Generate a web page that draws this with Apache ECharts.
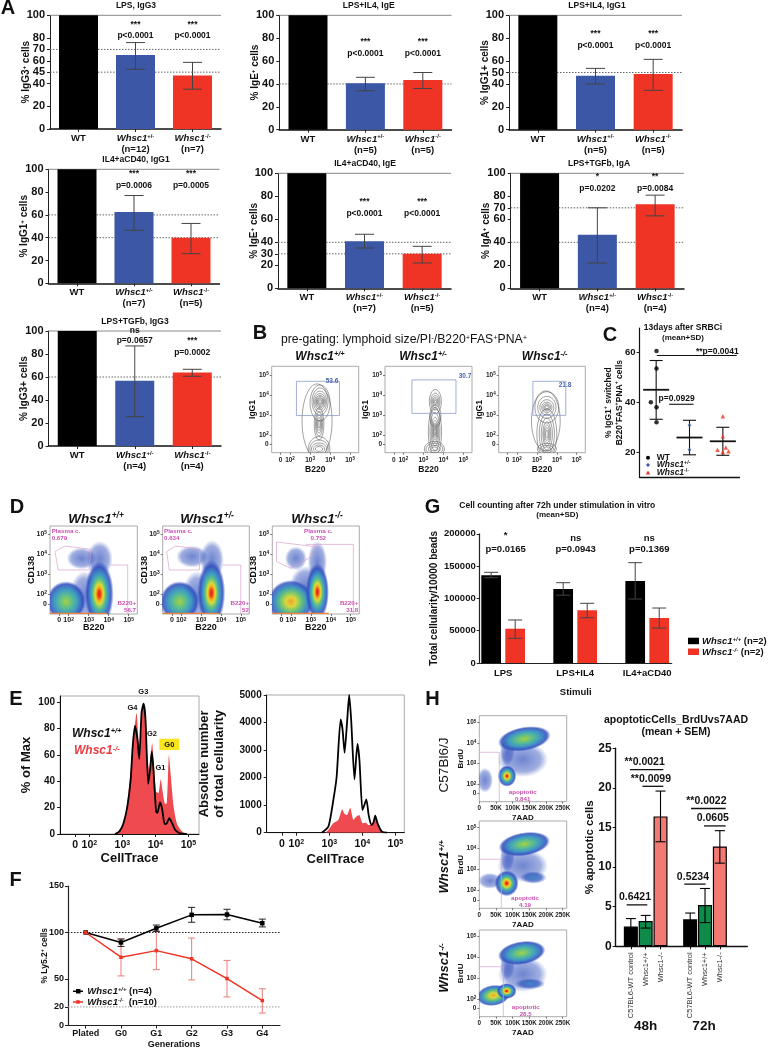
<!DOCTYPE html>
<html><head><meta charset="utf-8">
<script src="https://cdn.jsdelivr.net/npm/echarts@6/dist/echarts.min.js"></script>
<style>html,body{margin:0;padding:0;background:#fff}#c{width:768px;height:1050px}</style></head>
<body><div id="c"></div>
<script>
// ---------- DATA ----------
const barColors = ['#000000', '#3b57a5', '#ef3425'];
const a1Cats = ['WT', '{i|Whsc1}{s|+/-}\n{b|(n=12)}', '{i|Whsc1}{s|-/-}\n{b|(n=7)}'];
const a1Values = [100, 65, 47];
const a1Err = [[1, 52.5, 76], [2, 35, 58.6]];
const a1Ticks = [0, 20, 40, 50, 60, 70, 80, 100];
const a1Refs = [70, 50];
const a2Cats = ['WT', '{i|Whsc1}{s|+/-}\n{b|(n=5)}', '{i|Whsc1}{s|-/-}\n{b|(n=5)}'];
const a2Values = [100, 40.5, 43.4];
const a2Err = [[1, 34, 45.8], [2, 36, 50]];
const a2Ticks = [0, 20, 40, 60, 80, 100];
const a2Refs = [40];
const a3Cats = ['WT', '{i|Whsc1}{s|+/-}\n{b|(n=5)}', '{i|Whsc1}{s|-/-}\n{b|(n=5)}'];
const a3Values = [100, 47.2, 48.7];
const a3Err = [[1, 40, 53.6], [2, 34.4, 61.5]];
const a3Ticks = [0, 20, 40, 50, 60, 80, 100];
const a3Refs = [50];
const a4Cats = ['WT', '{i|Whsc1}{s|+/-}\n{b|(n=7)}', '{i|Whsc1}{s|-/-}\n{b|(n=5)}'];
const a4Values = [100, 62.6, 40];
const a4Err = [[1, 46.5, 77], [2, 26, 52.5]];
const a4Ticks = [0, 20, 40, 60, 80, 100];
const a4Refs = [60, 40];
const a5Cats = ['WT', '{i|Whsc1}{s|+/-}\n{b|(n=7)}', '{i|Whsc1}{s|-/-}\n{b|(n=5)}'];
const a5Values = [100, 41, 30];
const a5Err = [[1, 35, 47], [2, 22, 36.5]];
const a5Ticks = [0, 20, 30, 40, 60, 80, 100];
const a5Refs = [40, 30];
const a6Cats = ['WT', '{i|Whsc1}{s|+/-}\n{b|(n=4)}', '{i|Whsc1}{s|-/-}\n{b|(n=4)}'];
const a6Values = [100, 46.6, 73];
const a6Err = [[1, 22, 70], [2, 63, 81]];
const a6Ticks = [0, 20, 40, 60, 70, 80, 100];
const a6Refs = [70, 40];
const a7Cats = ['WT', '{i|Whsc1}{s|+/-}\n{b|(n=4)}', '{i|Whsc1}{s|-/-}\n{b|(n=4)}'];
const a7Values = [100, 56.8, 64];
const a7Err = [[1, 25.5, 87], [2, 60.6, 66.7]];
const a7Ticks = [0, 20, 40, 60, 80, 100];
const a7Refs = [60];

const cWT = [[0.01, 60.5], [0.01, 53.5], [-0.16, 40], [0.01, 38], [0.01, 32]];
const cHet = [[1, 30.8], [1, 21]];
const cKO = [[2, 34.4], [2, 26.4], [2.09, 21.9], [1.84, 21], [2.17, 20.4], [2, 20.1]];
const cMeanSd = [[0, 33.2, 56.7, 45], [1, 19, 32.8, 25.9], [2, 18.8, 30, 24.4]];
const cTicks = [20, 40, 60];

const gStimuli = ['LPS', 'LPS+IL4', 'IL4+aCD40'];
const gSlots = [0, 1, 3, 4, 6, 7];
const gValues = [136000, 53100, 114500, 81600, 127000, 69700];
const gLower = [132000, 38200, 105000, 70000, 99000, 54000];
const gUpper = [140400, 66600, 124300, 92400, 155300, 85100];

const fCats = ['Plated', 'G0', 'G1', 'G2', 'G3', 'G4'];
const fWT = [100, 89.3, 104.5, 119, 119.3, 110];
const fWTLow = [null, 85, 101, 111, 113.7, 106];
const fWTHigh = [null, 93, 108, 127, 125, 114.4];
const fKO = [100, 73.4, 80.5, 71.7, 50.5, 26.8];
const fKOLow = [null, 53.3, 60, 49, 30.7, 13.4];
const fKOHigh = [null, 93, 101.6, 94, 70, 39.5];

const hSlots = [0, 1, 2, 4, 5, 6];
const hCats = ['C57BL6-WT control', 'Whsc1+/+', 'Whsc1-/-'];
const hValues = [2.5, 3.2, 16.4, 3.4, 5.2, 12.6];
const hLower = [1.5, 2.3, 13.2, 2.6, 3.0, 10.5];
const hUpper = [3.5, 3.9, 19.6, 4.2, 7.3, 14.6];
const hBrackets = [[-0.28, 1.11, 5.23, '0.6421'], [-0.06, 2.19, 22.3, '**0.0021'], [0.78, 2.19, 20.2, '**0.0099'],
  [4.06, 6.39, 17.4, '**0.0022'], [4.93, 6.39, 15.2, '0.0605'], [3.6, 5.04, 7.85, '0.5234']];

// log10(CellTrace), % of max
const e1Black = [[2.78,0],[2.91,2],[3.03,8],[3.15,21],[3.25,41],[3.31,66],[3.38,82],[3.45,73],[3.51,57],[3.58,92],[3.64,99],[3.70,87],[3.78,38],[3.84,49],[3.89,62.5],[3.94,49],[4.02,17],[4.06,16],[4.14,24],[4.20,19.5],[4.28,7.6],[4.34,8],[4.42,12],[4.51,8],[4.60,3],[4.75,0.5],[4.95,0]];
const e1Red = [[2.78,0],[2.93,3],[3.08,11],[3.20,36],[3.28,56],[3.36,78],[3.43,92],[3.49,71],[3.54,64],[3.61,97],[3.68,98],[3.75,61],[3.81,49],[3.90,69],[3.96,51],[4.02,32],[4.09,31],[4.16,41.5],[4.22,32],[4.29,23],[4.34,23],[4.41,60],[4.46,46],[4.55,21],[4.65,8],[4.80,2],[4.95,0]];
const e2Black = [[2.77,0],[2.97,220],[3.12,1190],[3.22,2030],[3.34,4110],[3.40,3730],[3.46,2900],[3.54,4090],[3.60,5000],[3.66,4090],[3.76,1940],[3.85,3220],[3.91,2640],[4.00,820],[4.04,940],[4.12,1210],[4.19,640],[4.27,280],[4.33,340],[4.39,620],[4.46,340],[4.59,40],[4.74,0]];
const e2Red = [[2.87,0],[2.97,100],[3.12,340],[3.27,460],[3.39,850],[3.45,700],[3.53,640],[3.63,910],[3.73,460],[3.81,580],[3.90,640],[4.01,340],[4.10,360],[4.18,280],[4.28,300],[4.38,580],[4.48,280],[4.64,0]];

// flow plots: contour rings [cx, cy, rx, ry] in log10 units
const b1Rings = [[3.5,3.67,.06,.08],[3.5,3.67,.1,.13],[3.5,3.67,.14,.19],[3.5,3.67,.18,.25],[3.5,3.67,.22,.31],[3.5,3.67,.27,.4],[3.5,3.67,.33,.52],[3.5,3.67,.4,.68],[3.5,3.6,.5,.9],[3.45,2.55,.05,.2],[3.45,2.55,.09,.32],[3.45,2.55,.13,.45],[3.45,2.55,.18,.6],[3.45,2.55,.24,.8],[3.45,1.3,.18,.12],[3.45,1.3,.28,.2],[3.45,1.3,.38,.3],[3.45,1.3,.46,.45],[3.45,1.3,.54,.62],[3.35,2.7,.75,1.85]];
const b2Rings = [[3.6,3.67,.05,.08],[3.6,3.67,.09,.14],[3.6,3.67,.13,.21],[3.6,3.67,.18,.3],[3.6,3.67,.23,.42],[3.6,3.67,.3,.6],[3.6,2.9,.22,.4],[3.6,2.95,.28,.55],[3.58,2.17,.04,.2],[3.58,2.17,.07,.3],[3.58,2.17,.1,.42],[3.58,2.17,.14,.55],[3.58,2.17,.19,.72],[3.58,2.17,.25,.95],[3.58,2.17,.33,1.2],[3.55,1.3,.18,.1],[3.55,1.3,.3,.18],[3.55,1.3,.42,.28],[3.55,1.3,.5,.38]];
const b3Rings = [[3.5,3.38,.08,.07],[3.5,3.38,.13,.12],[3.5,3.38,.19,.18],[3.5,3.38,.26,.26],[3.5,3.38,.35,.38],[3.5,3.38,.46,.55],[3.5,3.38,.6,.78],[3.5,2.05,.06,.2],[3.5,2.05,.1,.32],[3.5,2.05,.15,.45],[3.5,2.05,.2,.6],[3.5,2.05,.28,.8],[3.5,2.05,.38,1],[3.5,2.05,.5,1.25],[3.5,1.3,.2,.1],[3.5,1.3,.34,.18],[3.5,1.3,.48,.28],[3.45,2.7,.72,1.5]];
const b1Gate = [[2.32,2.97],[4.47,2.97],[4.47,4.68],[2.32,4.68],[2.32,2.97]];
const b2Gate = [[2.43,3.08],[4.63,3.08],[4.63,4.75],[2.43,4.75],[2.43,3.08]];
const b3Gate = [[2.8,2.98],[4.45,2.98],[4.45,4.68],[2.8,4.68],[2.8,2.98]];

// density clouds: [cx, cy, rx, ry, kind(0 sparse,1 cool,2 green,3 hot,4 warm), tilt deg]
const d1Clouds = [[2.8,1.9,.75,1.25,0,0],[3.55,3.75,.65,.9,0,0],[2.65,3.78,.75,.55,0,0],[1.87,1.62,.98,1.02,2,0],[3.53,2.0,.72,1.65,3,0]];
const d2Clouds = [[2.8,1.9,.75,1.25,0,0],[3.55,3.7,.6,1,0,0],[2.55,3.87,.8,.55,0,0],[1.92,1.62,.98,1.02,2,0],[3.52,2.05,.7,1.65,3,0]];
const d3Clouds = [[2.75,2.4,.8,1,0,0],[3.33,3.6,.48,1.05,0,0],[2.25,3.78,.55,.6,0,0],[2.0,1.62,1.15,1.08,4,0],[3.33,2.1,.58,1.45,3,0]];
const d1Plasma = [[1.32,4.12],[1.82,4.4],[3.1,4.23],[3.03,3.2],[1.48,3.2],[1.32,4.12]];
const d2Plasma = [[1.27,4.12],[1.72,4.4],[2.92,4.23],[2.92,3.2],[1.4,3.2],[1.27,4.12]];
const d3Plasma = [[1.28,4.6],[3.2,4.37],[3.03,3.87],[2,3.28],[1.28,3.62],[1.28,4.6]];
const d1B220 = [[4.07,3.45],[4.95,3.45],[4.95,1]];
const d2B220 = [[4.1,3.45],[5,3.45],[5,1]];
const d3B220 = [[2.75,4.48],[5.13,4.48],[5.13,1]];
const dFloor = [[1.07,1.03],[3.9,1.03]];

const h1Clouds = [[17,2.2,24,.6,0,0],[130,3.2,76,.85,0,0],[84,3.6,22,.7,0,0],[135,4.2,80,.58,2,10],[83,2.4,28,.52,3,0]];
const h2Clouds = [[32,2.47,36,.38,0,0],[130,3.2,76,.8,0,0],[162,2.63,40,.3,1,0],[84,3.6,22,.7,0,0],[135,4.22,78,.56,2,9],[82,2.35,36,.62,3,0]];
const h3Clouds = [[130,3.2,74,.85,0,0],[152,2.74,46,.26,1,0],[84,3.6,22,.7,0,0],[127,4.22,72,.56,2,9],[42,2.18,50,.5,4,8],[82,2.39,30,.38,3,0]];
const h1Gate = [[0,3.55],[60,3.55],[60,1.16]];
const h2Gate = [[0,3.5],[66,3.5],[66,1.16]];
const h3Gate = [[0,3.56],[72,3.56],[72,1.16]];
const hFlowXTicks = [0, 50, 100, 150, 200, 250];

// ---------- BUILD ----------
const FF = 'Liberation Sans, Arial, sans-serif';
const option = {animation:false, backgroundColor:'#fff', textStyle:{fontFamily:FF},
  grid:[], xAxis:[], yAxis:[], series:[], graphic:{elements:[]}};
const AX = '#222';
function rich(size, color, lh){
  const c = color || '#111';
  const small=Math.round(size*.62*10)/10;
  const L=lh?{lineHeight:lh}:{};
  return {
    i:Object.assign({fontStyle:'italic',fontWeight:'bold',fontSize:size,fontFamily:FF,color:c,fill:c},L),
    s:Object.assign({fontSize:small,fontWeight:'bold',fontFamily:FF,verticalAlign:'top',color:c,fill:c},L),
    si:Object.assign({fontSize:small,fontStyle:'italic',fontWeight:'bold',fontFamily:FF,verticalAlign:'top',color:c,fill:c},L),
    n:Object.assign({fontSize:size,fontWeight:'normal',fontFamily:FF,color:c,fill:c},L),
    ns:Object.assign({fontSize:small,fontWeight:'normal',fontFamily:FF,verticalAlign:'top',color:c,fill:c},L),
    b:Object.assign({fontSize:size,fontWeight:'bold',fontFamily:FF,color:c,fill:c},L)
  };
}
function T(text,x,y,o){o=o||{};
  const size=o.size||9, color=o.color||'#111';
  option.graphic.elements.push({type:'text',x,y,rotation:o.rot||0,z:50,silent:true,style:{
    text,fill:color,fontFamily:FF,fontSize:size,fontWeight:o.weight||'bold',fontStyle:o.style||'normal',
    align:o.align||'center',verticalAlign:'middle',lineHeight:o.lh,rich:rich(size,color)}});
}
function G(g){option.graphic.elements.push(Object.assign({silent:true,z:50},g));}
function addGrid(r,x,y,showFrame){
  const gi=option.grid.length;
  option.grid.push({left:r[0],top:r[1],width:r[2]-r[0],height:r[3]-r[1],show:!!showFrame,borderColor:'#aaa',borderWidth:1});
  option.xAxis.push(Object.assign({gridIndex:gi,nameMoveOverlap:false,splitLine:{show:false}},x));
  option.yAxis.push(Object.assign({gridIndex:gi,nameMoveOverlap:false,splitLine:{show:false}},y));
  return gi;
}
function refSeries(gi,vals,color,solid){
  return {type:'custom',xAxisIndex:gi,yAxisIndex:gi,z:1,silent:true,data:vals.map(v=>[0,v]),encode:{x:0,y:1},
    renderItem:(p,api)=>{const c=p.coordSys,y=api.coord([0,api.value(1)])[1];
      return {type:'line',shape:{x1:c.x,y1:y,x2:c.x+c.width,y2:y},style:{stroke:color||'#666',lineWidth:1,lineDash:solid?null:[1.5,1.5]}};}};
}
function errSeries(gi,data,cap,color,lw){
  return {type:'custom',xAxisIndex:gi,yAxisIndex:gi,z:5,silent:true,data,encode:{x:0,y:[1,2]},
    renderItem:(p,api)=>{const x=api.value(0),a=api.coord([x,api.value(1)]),b=api.coord([x,api.value(2)]);
      const s={stroke:color,lineWidth:lw||1};
      return {type:'group',children:[
        {type:'line',shape:{x1:a[0],y1:a[1],x2:b[0],y2:b[1]},style:s},
        {type:'line',shape:{x1:a[0]-cap/2,y1:a[1],x2:a[0]+cap/2,y2:a[1]},style:s},
        {type:'line',shape:{x1:b[0]-cap/2,y1:b[1],x2:b[0]+cap/2,y2:b[1]},style:s}]};}};
}
const TICK={show:true,length:3,lineStyle:{color:AX,width:1}};
function barPanel(p){
  const gi=addGrid(p.rect,
    {type:'category',data:p.cats,axisLine:{show:true,lineStyle:{color:'#111',width:1.5}},axisTick:{show:true,alignWithLabel:true,length:3,lineStyle:{color:AX}},
     axisLabel:{interval:0,margin:4,fontSize:9.5,fontWeight:'bold',color:'#111',lineHeight:11,rich:rich(9.5,'#111',11)}},
    {type:'value',min:0,max:100,name:p.yName,nameLocation:'middle',nameGap:p.gap||19,
     nameTextStyle:{fontSize:10,fontWeight:'bold',color:'#111',rich:rich(10)},
     axisLine:{show:true,onZero:false,lineStyle:{color:AX,width:1}},axisTick:Object.assign({},TICK,{customValues:p.ticks}),
     axisLabel:{customValues:p.ticks,margin:5,fontSize:11,fontWeight:'bold',color:'#111',formatter:v=>(p.labelMap&&p.labelMap[v])||String(v)}});
  option.series.push(refSeries(gi,[100],'#888',true));
  option.series.push(refSeries(gi,p.refs));
  option.series.push({type:'bar',xAxisIndex:gi,yAxisIndex:gi,z:2,barWidth:39,
    data:p.values.map((v,i)=>({value:v,itemStyle:{color:barColors[i]}}))});
  option.series.push(errSeries(gi,p.err,19,'#444',1));
  const band=(p.rect[2]-p.rect[0])/3;
  T(p.title,p.titleX,p.titleY,{size:8.5});
  p.notes.forEach(n=>{const cx=p.rect[0]+band*(n[0]+.5);
    T(n[1],cx,n[2],{size:8.5});T(n[3],cx,n[4],{size:8.5});});
}
barPanel({rect:[50,15.3,221,129],cats:a1Cats,values:a1Values,err:a1Err,ticks:a1Ticks,refs:a1Refs,labelMap:{50:'45'},yName:'% IgG3{s|+} cells',title:'LPS, IgG3',titleX:136,titleY:5.5,
  notes:[[1,'***',24.7,'p<0.0001',36],[2,'***',24.7,'p<0.0001',36]]});
barPanel({rect:[279.3,15.3,451.5,129.7],cats:a2Cats,values:a2Values,err:a2Err,ticks:a2Ticks,refs:a2Refs,yName:'% IgE{s|+} cells',title:'LPS+IL4, IgE',titleX:368.7,titleY:5.5,
  notes:[[1,'***',41.7,'p<0.0001',53.7],[2,'***',41.7,'p<0.0001',53.7]]});
barPanel({rect:[509,15.3,682,129.7],cats:a3Cats,values:a3Values,err:a3Err,ticks:a3Ticks,refs:a3Refs,yName:'% IgG1+ cells',title:'LPS+IL4, IgG1',titleX:597,titleY:5.5,
  notes:[[1,'***',34,'p<0.0001',46],[2,'***',34,'p<0.0001',46]]});
barPanel({rect:[48.5,169.3,219.5,283.3],cats:a4Cats,values:a4Values,err:a4Err,ticks:a4Ticks,refs:a4Refs,yName:'% IgG1{s|+} cells',title:'IL4+aCD40, IgG1',titleX:136,titleY:160,
  notes:[[1,'***',173.7,'p=0.0006',185.7],[2,'***',173.7,'p=0.0005',185.7]]});
barPanel({rect:[278,173.3,451,288.3],cats:a5Cats,values:a5Values,err:a5Err,ticks:a5Ticks,refs:a5Refs,yName:'% IgE{s|+} cells',title:'IL4+aCD40, IgE',titleX:365,titleY:164,
  notes:[[1,'***',201.7,'p<0.0001',213.7],[2,'***',201.7,'p<0.0001',213.7]]});
barPanel({rect:[510.7,173.3,684,288.3],cats:a6Cats,values:a6Values,err:a6Err,ticks:a6Ticks,refs:a6Refs,yName:'% IgA{s|+} cells',title:'LPS+TGFb, IgA',titleX:599,titleY:164,
  notes:[[1,'*',176.7,'p=0.0202',189],[2,'**',176.7,'p=0.0084',189]]});
barPanel({rect:[48.5,331,221,446],cats:a7Cats,values:a7Values,err:a7Err,ticks:a7Ticks,refs:a7Refs,yName:'% IgG3+ cells',title:'LPS+TGFb, IgG3',titleX:135,titleY:321.7,
  notes:[[1,'ns',331,'p=0.0657',341],[2,'***',341,'p=0.0002',353]]});

// flow plots
const cloudStops=[
 [[0,'rgba(55,85,190,.72)'],[.7,'rgba(55,85,190,.48)'],[1,'rgba(55,85,190,0)']],
 [[0,'#3f86c8'],[.6,'rgba(50,90,190,.75)'],[1,'rgba(50,80,190,0)']],
 [[0,'#a8d040'],[.3,'#5fc08a'],[.6,'#3f9ac4'],[.86,'rgba(45,75,190,.85)'],[1,'rgba(45,75,190,0)']],
 [[0,'#e8231c'],[.12,'#ee4a1c'],[.2,'#f5a81f'],[.3,'#d8dc34'],[.45,'#5cc088'],[.6,'#3f9ac4'],[.82,'rgba(45,75,190,.85)'],[1,'rgba(45,75,190,0)']],
 [[0,'#f0a030'],[.22,'#d8d838'],[.48,'#62c07e'],[.7,'#3f92c4'],[.88,'rgba(45,75,190,.8)'],[1,'rgba(45,75,190,0)']]
];
function cloudSeries(gi,data){
  return {type:'custom',xAxisIndex:gi,yAxisIndex:gi,clip:true,silent:true,z:2,data,encode:{x:0,y:1},
    renderItem:(p,api)=>{const c=api.coord([api.value(0),api.value(1)]);
      const rx=api.size([api.value(2),0])[0],ry=api.size([0,api.value(3)])[1];
      return {type:'circle',x:c[0],y:c[1],scaleX:rx,scaleY:ry,rotation:api.value(5)*Math.PI/180,shape:{cx:0,cy:0,r:1},
        style:{fill:{type:'radial',x:.5,y:.5,r:.5,colorStops:cloudStops[api.value(4)].map(s=>({offset:s[0],color:s[1]}))}}};}};
}
function ringSeries(gi,data){
  return {type:'custom',xAxisIndex:gi,yAxisIndex:gi,clip:true,silent:true,z:2,data,encode:{x:0,y:1},
    renderItem:(p,api)=>{const c=api.coord([api.value(0),api.value(1)]);
      const rx=api.size([api.value(2),0])[0],ry=api.size([0,api.value(3)])[1];
      return {type:'ellipse',shape:{cx:c[0],cy:c[1],rx,ry},style:{fill:'none',stroke:'#444',lineWidth:.5}};}};
}
function gateSeries(gi,data,color,w){
  return {type:'line',xAxisIndex:gi,yAxisIndex:gi,z:3,silent:true,showSymbol:false,data,clip:true,lineStyle:{color,width:w||.7}};
}
const logFmt=v=>v<1.9?'0':`10{s|${v}}`;
function flowLogAxis(min,max,zero,name,gap,fs,ns,isY,margin){
  const vals=[zero,2,3,4,5];
  return {type:'value',min,max,name,nameLocation:'middle',nameGap:gap,nameTextStyle:{fontSize:ns,fontWeight:'bold',color:'#111'},
    axisLine:{show:false,onZero:false},axisTick:{show:true,length:2,lineStyle:{color:'#444',width:.7},customValues:vals},
    axisLabel:{customValues:vals,formatter:logFmt,margin:margin||4,fontSize:fs,fontWeight:'bold',color:'#222',rich:{s:{fontSize:fs*.7,fontWeight:'bold',verticalAlign:'top',color:'#222'}}}};
}
// Panel B
const bPanels=[[[271.7,366.3,358.7,452.7],b1Rings,b1Gate],[[385,366.3,472,452.7],b2Rings,b2Gate],[[498.7,366.3,585.3,452.7],b3Rings,b3Gate]];
bPanels.forEach((b)=>{
  const gi=addGrid(b[0],flowLogAxis(1.085,5.43,1.53,'B220',12.5,6.5,8.5,false),flowLogAxis(1.115,5.43,1.53,'IgG1',15,6.5,8.5,true,3),true);
  option.series.push(ringSeries(gi,b[1]));
  option.series.push(gateSeries(gi,b[2],'#8a9cc8',.8));
});
T('53.6',332,381.7,{size:6.5,color:'#4a64b0'});
T('30.7',465,376.7,{size:6.5,color:'#4a64b0'});
T('21.8',565,385.3,{size:6.5,color:'#4a64b0'});
T('{n|pre-gating: lymphoid size/PI}{ns|-}{n|/B220}{ns|+}{n|FAS}{ns|+}{n|PNA}{ns|+}',404,339.5,{size:12.2,weight:'normal'});
T('{i|Whsc1}{si|+/+}',320,356.7,{size:12});
T('{i|Whsc1}{si|+/-}',423,356.7,{size:12});
T('{i|Whsc1}{si|-/-}',544.7,356.7,{size:12});

function bracketSeries(gi,data,lw,fs){
  return {type:'custom',xAxisIndex:gi,yAxisIndex:gi,z:6,silent:true,data:data.map((d,i)=>[d[0],d[1],d[2],i]),encode:{x:[0,1],y:2},
    renderItem:(p,api)=>{const a=api.coord([api.value(0),api.value(2)]),b=api.coord([api.value(1),api.value(2)]);
      const lab=data[api.value(3)][3];
      const kids=[{type:'line',shape:{x1:a[0],y1:a[1],x2:b[0],y2:b[1]},style:{stroke:'#111',lineWidth:lw}}];
      if(lab)kids.push({type:'text',x:(a[0]+b[0])/2-2,y:a[1]-7.5,style:{text:lab,fill:'#111',fontFamily:FF,fontSize:fs,fontWeight:'bold',align:'center',verticalAlign:'middle'}});
      return {type:'group',children:kids};}};
}
// Panel C
{
  const gi=addGrid([639.5,328,739.5,477.3],
    {type:'value',min:-.5,max:2.5,axisLine:{show:true,onZero:false,lineStyle:{color:'#111',width:1.3}},axisTick:{show:false},axisLabel:{show:false}},
    {type:'value',min:10,max:69.7,name:'% IgG1{s|+} switched\nB220{s|+}FAS{s|+}PNA{s|+} cells',nameLocation:'middle',nameGap:14,
     nameTextStyle:{fontSize:8.5,fontWeight:'bold',color:'#111',lineHeight:11,rich:rich(8.5,'#111',11)},
     axisLine:{show:true,onZero:false,lineStyle:{color:'#111',width:1.2}},axisTick:Object.assign({},TICK,{customValues:cTicks}),
     axisLabel:{customValues:cTicks,margin:4,fontSize:9.5,fontWeight:'bold',color:'#111'}});
  option.series.push({type:'custom',xAxisIndex:gi,yAxisIndex:gi,z:3,silent:true,data:cMeanSd,encode:{x:0,y:[1,2,3]},
    renderItem:(p,api)=>{const x=api.value(0),a=api.coord([x,api.value(1)]),b=api.coord([x,api.value(2)]),m=api.coord([x,api.value(3)]);
      const s={stroke:'#111',lineWidth:1.1};
      return {type:'group',children:[
        {type:'line',shape:{x1:a[0],y1:a[1],x2:b[0],y2:b[1]},style:s},
        {type:'line',shape:{x1:a[0]-6.5,y1:a[1],x2:a[0]+6.5,y2:a[1]},style:s},
        {type:'line',shape:{x1:b[0]-6.5,y1:b[1],x2:b[0]+6.5,y2:b[1]},style:s},
        {type:'line',shape:{x1:m[0]-13,y1:m[1],x2:m[0]+13,y2:m[1]},style:{stroke:'#111',lineWidth:1.8}}]};}});
  option.series.push({type:'scatter',name:'WT',xAxisIndex:gi,yAxisIndex:gi,z:4,data:cWT,symbol:'circle',symbolSize:4.5,itemStyle:{color:'#000'}});
  option.series.push({type:'scatter',name:'Whsc1+/-',xAxisIndex:gi,yAxisIndex:gi,z:4,data:cHet,symbol:'diamond',symbolSize:4,itemStyle:{color:'#3b57a5'}});
  option.series.push({type:'scatter',name:'Whsc1-/-',xAxisIndex:gi,yAxisIndex:gi,z:4,data:cKO,symbol:'triangle',symbolSize:4.5,itemStyle:{color:'#ef3425'}});
  option.series.push(bracketSeries(gi,[[.02,2.42,58.7,''],[.39,1.12,39.2,'']],1.1,9));
  T('**p=0.0041',384+1000/3,351.5,{size:8.5});
  T('p=0.0929',384+878/3,399,{size:8.5});
  T('13days after SRBCi',683,328,{size:8.5});
  T('(mean+SD)',683,337.5,{size:8});
  [['WT',457.7,'circle','#000'],['{i|Whsc1}{s|+/-}',465,'diamond','#3b57a5'],['{i|Whsc1}{s|-/-}',472.7,'triangle','#ef3425']].forEach(l=>{
    T(l[0],656.7,l[1],{size:8.5,align:'left'});
    if(l[2]==='circle')G({type:'circle',shape:{cx:648,cy:l[1],r:2},style:{fill:l[3]}});
    else if(l[2]==='diamond')G({type:'polygon',shape:{points:[[648,l[1]-2],[650,l[1]],[648,l[1]+2],[646,l[1]]]},style:{fill:l[3]}});
    else G({type:'polygon',shape:{points:[[648,l[1]-2.2],[650.2,l[1]+1.8],[645.8,l[1]+1.8]]},style:{fill:l[3]}});
  });
}

// Panel D
const dPanels=[[[50,526,137.3,614],d1Clouds,d1Plasma,d1B220],[[162.7,526,249.3,614],d2Clouds,d2Plasma,d2B220],[[272.3,526,359.3,614],d3Clouds,d3Plasma,d3B220]];
dPanels.forEach(d=>{
  const gi=addGrid(d[0],flowLogAxis(1.07,5.43,1.53,'B220',9.5,7,9,false,3),flowLogAxis(1,5.4,1.5,'CD138',14,7,9,true,3),true);
  option.series.push(cloudSeries(gi,d[1]));
  option.series.push(gateSeries(gi,dFloor,'#f0803a',1.4));
  option.series.push(gateSeries(gi,d[2],'#d9a0cf'));
  option.series.push(gateSeries(gi,d[3],'#d9a0cf'));
});
const PINK='#c94fb0';
T('{i|Whsc1}{si|+/+}',96,519,{size:13.5});T('{i|Whsc1}{si|+/-}',207,519,{size:13.5});T('{i|Whsc1}{si|-/-}',317,519,{size:13.5});
[[51.7,'left','0.679'],[164,'left','0.634'],[318.3,'center','0.752']].forEach(a=>{
  T('Plasma c.',a[0],531,{size:6.2,color:PINK,align:a[1]});T(a[2],a[0],537.8,{size:6.2,color:PINK,align:a[1]});});
[[136,'56.7'],[249,'52'],[358.3,'31.8']].forEach(a=>{
  T('B220+',a[0],603.7,{size:6.2,color:PINK,align:'right'});T(a[1],a[0],610,{size:6.2,color:PINK,align:'right'});});

// Panel E
function eAxis(min,max,zero,name,gap){
  const vals=[zero,2,3,4,5];
  return {type:'value',min,max,name,nameLocation:'middle',nameGap:gap,nameTextStyle:{fontSize:13,fontWeight:'bold',color:'#111'},
    axisLine:{show:true,onZero:false,lineStyle:{color:'#111',width:1}},axisTick:{show:true,length:3,lineStyle:{color:'#222'},customValues:vals},
    axisLabel:{customValues:vals,formatter:logFmt,margin:6,fontSize:10.5,fontWeight:'bold',color:'#111',rich:{s:{fontSize:7,fontWeight:'bold',verticalAlign:'top',color:'#111'}}}};
}
function eY(max,interval,name,gap){
  return {type:'value',min:0,max,interval,name,nameLocation:'middle',nameGap:gap,
    nameTextStyle:{fontSize:13,fontWeight:'bold',color:'#111',lineHeight:15},
    axisLine:{show:true,onZero:false,lineStyle:{color:'#111',width:1}},axisTick:{show:true,length:3,lineStyle:{color:'#222'}},
    axisLabel:{margin:5,fontSize:10,fontWeight:'bold',color:'#111',formatter:v=>String(v)}};
}
{
  const g1=addGrid([60,696,199,834],eAxis(1.11,5.32,1.57,'CellTrace',18),eY(104.8,20,'% of Max',26),true);
  option.series.push({type:'line',xAxisIndex:g1,yAxisIndex:g1,z:2,smooth:.2,showSymbol:false,data:e1Red,lineStyle:{width:0},areaStyle:{color:'#ee4a4f',opacity:1}});
  option.series.push({type:'line',xAxisIndex:g1,yAxisIndex:g1,z:3,smooth:.2,showSymbol:false,data:e1Black,lineStyle:{color:'#000',width:1.8}});
  const g2=addGrid([266.7,695,404.3,832.7],eAxis(1.1,5.27,1.56,'CellTrace',20),eY(5000,1000,'Absolute number\nof total cellularity',40),true);
  option.series.push({type:'line',xAxisIndex:g2,yAxisIndex:g2,z:2,smooth:.2,showSymbol:false,data:e2Red,lineStyle:{width:0},areaStyle:{color:'#ee4a4f',opacity:1}});
  option.series.push({type:'line',xAxisIndex:g2,yAxisIndex:g2,z:3,smooth:.2,showSymbol:false,data:e2Black,lineStyle:{color:'#000',width:1.8}});
  T('{i|Whsc1}{si|+/+}',72,733.5,{size:12,align:'left'});
  T('{i|Whsc1}{si|-/-}',74,751,{size:12,align:'left',color:'#e83a3f'});
  T('G4',132.5,708,{size:7.5});T('G3',143.3,692,{size:7.5});T('G2',152,734,{size:7.5});T('G1',160.5,768,{size:7.5});
  G({type:'rect',shape:{x:159.3,y:738.7,width:20,height:11.3},style:{fill:'#f8e51e'},z:49});
  T('G0',169.3,744.5,{size:7.5});
}

// Panel F
{
  const gi=addGrid([68,886,280,1027.7],
    {type:'category',data:fCats,name:'Generations',nameLocation:'middle',nameGap:14.5,nameTextStyle:{fontSize:9,fontWeight:'bold',color:'#111'},
     axisLine:{show:true,lineStyle:{color:'#222',width:1.2}},axisTick:{show:true,alignWithLabel:true,length:3,lineStyle:{color:'#222'}},
     axisLabel:{interval:0,margin:4,fontSize:9,fontWeight:'bold',color:'#111'}},
    {type:'value',min:0,max:150,name:'% Ly5.2{s|+} cells',nameLocation:'middle',nameGap:19,nameTextStyle:{fontSize:8.5,fontWeight:'bold',color:'#111',rich:rich(8.5)},
     axisLine:{show:true,onZero:false,lineStyle:{color:'#222',width:1.2}},axisTick:Object.assign({},TICK,{customValues:[0,20,50,100,150]}),
     axisLabel:{customValues:[0,20,50,100,150],margin:4,fontSize:9,fontWeight:'bold',color:'#111'}});
  option.series.push(refSeries(gi,[100],'#222'));
  option.series.push(refSeries(gi,[20],'#999'));
  const toErr=(lo,hi)=>lo.map((l,i)=>l==null?null:[i,l,hi[i]]).filter(Boolean);
  option.series.push(errSeries(gi,toErr(fKOLow,fKOHigh),7,'#ea7d78',1));
  option.series.push(errSeries(gi,toErr(fWTLow,fWTHigh),7,'#222',1));
  option.series.push({type:'line',xAxisIndex:gi,yAxisIndex:gi,z:6,data:fWT,symbol:'rect',symbolSize:4.5,itemStyle:{color:'#000'},lineStyle:{color:'#000',width:1.5}});
  option.series.push({type:'line',xAxisIndex:gi,yAxisIndex:gi,z:7,data:fKO,symbol:'rect',symbolSize:3.5,itemStyle:{color:'#ef3425'},lineStyle:{color:'#ef3425',width:1.5}});
  G({type:'line',shape:{x1:73,y1:991.3,x2:83,y2:991.3},style:{stroke:'#000',lineWidth:1.5}});
  G({type:'rect',shape:{x:76,y:989,width:4.5,height:4.5},style:{fill:'#000'}});
  G({type:'line',shape:{x1:73,y1:1002,x2:83,y2:1002},style:{stroke:'#ef3425',lineWidth:1.5}});
  G({type:'rect',shape:{x:76.2,y:1000.2,width:3.5,height:3.5},style:{fill:'#ef3425'}});
  T('{i|Whsc1}{si|+/+} {b|(n=4)}',87.3,991,{size:9.5,align:'left'});
  T('{i|Whsc1}{si|-/-}  {b|(n=10)}',87.3,1002,{size:9.5,align:'left'});
}

// Panel G
{
  const ticks=[.5,3.5,6.5];
  const gi=addGrid([479.7,533.8,671.7,663],
    {type:'value',min:-.477,max:7.52,name:'Stimuli',nameLocation:'middle',nameGap:24,nameTextStyle:{fontSize:9.5,fontWeight:'bold',color:'#111'},
     axisLine:{show:true,onZero:false,lineStyle:{color:'#222',width:1.2}},axisTick:{show:false},
     axisLabel:{customValues:ticks,margin:5,fontSize:9.5,fontWeight:'bold',color:'#111',formatter:v=>gStimuli[ticks.indexOf(v)]||''}},
    {type:'value',min:0,max:200000,interval:50000,name:'Total cellularity/10000 beads',nameLocation:'middle',nameGap:40,nameTextStyle:{fontSize:10,fontWeight:'bold',color:'#111'},
     axisLine:{show:true,onZero:false,lineStyle:{color:'#222',width:1.2}},axisTick:{show:true,length:3,lineStyle:{color:'#222'}},
     axisLabel:{margin:4,fontSize:9.5,fontWeight:'bold',color:'#111',formatter:v=>String(v)}});
  option.series.push({type:'bar',xAxisIndex:gi,yAxisIndex:gi,z:2,barWidth:19.7,
    data:gValues.map((v,i)=>({value:[gSlots[i],v],itemStyle:{color:i%2?'#ef3425':'#000'}}))});
  option.series.push(errSeries(gi,gSlots.map((s,i)=>[s,gLower[i],gUpper[i]]),14,'#444',1));
  T('Cell counting after 72h under stimulation in vitro',557.3,505.3,{size:8.5});
  T('(mean+SD)',557.3,514.7,{size:8});
  [[505.7,'*',535,'p=0.0165'],[575.7,'ns',538.3,'p=0.0943'],[649.3,'ns',538.3,'p=0.1369']].forEach(n=>{
    T(n[1],n[0],n[2],{size:9.5});T(n[3],n[0],549,{size:9.5});});
  G({type:'rect',shape:{x:688,y:637.7,width:11,height:6.5},style:{fill:'#000'}});
  G({type:'rect',shape:{x:688,y:648.5,width:11,height:6.5},style:{fill:'#ef3425'}});
  T('{i|Whsc1}{si|+/+} {b|(n=2)}',702,641,{size:9.5,align:'left'});
  T('{i|Whsc1}{si|-/-} {b|(n=2)}',702,652,{size:9.5,align:'left'});
}

// Panel H flow
const hPanels=[[[479.3,715.7,566.7,801.7],h1Clouds,h1Gate],[[479.3,821,566.7,908.3],h2Clouds,h2Gate],[[479.3,930,566.7,1016.7],h3Clouds,h3Gate]];
hPanels.forEach(h=>{
  const x={type:'value',min:0,max:262,name:'7AAD',nameLocation:'middle',nameGap:12,nameTextStyle:{fontSize:8,fontWeight:'bold',color:'#111'},
    axisLine:{show:false,onZero:false},axisTick:{show:true,length:2,lineStyle:{color:'#444',width:.7},customValues:hFlowXTicks},
    axisLabel:{customValues:hFlowXTicks,margin:4,fontSize:6.3,fontWeight:'bold',color:'#222',formatter:v=>v?v+'K':'0'}};
  const gi=addGrid(h[0],x,flowLogAxis(1.16,5.32,1.56,'BrdU',15,6.5,8,true,3),true);
  option.series.push(cloudSeries(gi,h[1]));
  option.series.push(gateSeries(gi,h[2],'#d9a0cf'));
});
[[522.7,792.7,'0.841'],[525,898.7,'4.19'],[525.7,1007.3,'28.5']].forEach(a=>{
  T('apoptotic',a[0],a[1],{size:6.2,color:PINK});T(a[2],a[0],a[1]+6.7,{size:6.2,color:PINK});});
T('C57Bl6/J',444,765,{size:13.5,weight:'normal',rot:Math.PI/2});
T('{i|Whsc1}{si|+/+}',444,866.7,{size:13,rot:Math.PI/2});
T('{i|Whsc1}{si|-/-}',444,968,{size:13,rot:Math.PI/2});

// Panel H bars
{
  const hColors=['#000','#0e8a4a','#f27a72'];
  const gi=addGrid([615.7,748.3,747.3,946.3],
    {type:'value',min:-1.02,max:7.85,axisLine:{show:true,onZero:false,lineStyle:{color:'#111',width:1.4}},
     axisTick:{show:true,length:3,lineStyle:{color:'#111'},customValues:hSlots},
     axisLabel:{customValues:hSlots,rotate:90,margin:6,fontSize:7.5,color:'#333',formatter:v=>hCats[hSlots.indexOf(v)%3]}},
    {type:'value',min:0,max:25,interval:5,name:'% apoptotic cells',nameLocation:'middle',nameGap:19.5,nameTextStyle:{fontSize:11.5,fontWeight:'bold',color:'#111'},
     axisLine:{show:true,onZero:false,lineStyle:{color:'#111',width:1.4}},axisTick:{show:true,length:3,lineStyle:{color:'#111'}},
     axisLabel:{margin:4,fontSize:12,fontWeight:'bold',color:'#111'}});
  option.series.push({type:'bar',xAxisIndex:gi,yAxisIndex:gi,z:2,barWidth:14,
    data:hValues.map((v,i)=>({value:[hSlots[i],v],itemStyle:{color:hColors[i%3],borderColor:'#000',borderWidth:1.2}}))});
  option.series.push(errSeries(gi,hSlots.map((s,i)=>[s,hLower[i],hUpper[i]]),10,'#000',1.1));
  option.series.push(bracketSeries(gi,hBrackets,1.3,10.5));
  T('apoptoticCells_BrdUvs7AAD',676,720,{size:10.5});
  T('(mean + SEM)',676,732,{size:10.5});
  T('48h',645.7,1026,{size:13.5});T('72h',704,1026,{size:13.5});
}

// Panel letters
[['A',8,8.5],['B',260,333.5],['C',610,335],['D',17,507.5],['E',16,699],['F',15.5,880.5],['G',432.5,507.5],['H',432.5,699]].forEach(l=>T(l[0],l[1],l[2],{size:20}));

const chart=echarts.init(document.getElementById('c'),null,{renderer:'canvas',width:768,height:1050});
chart.setOption(option);
</script></body></html>
